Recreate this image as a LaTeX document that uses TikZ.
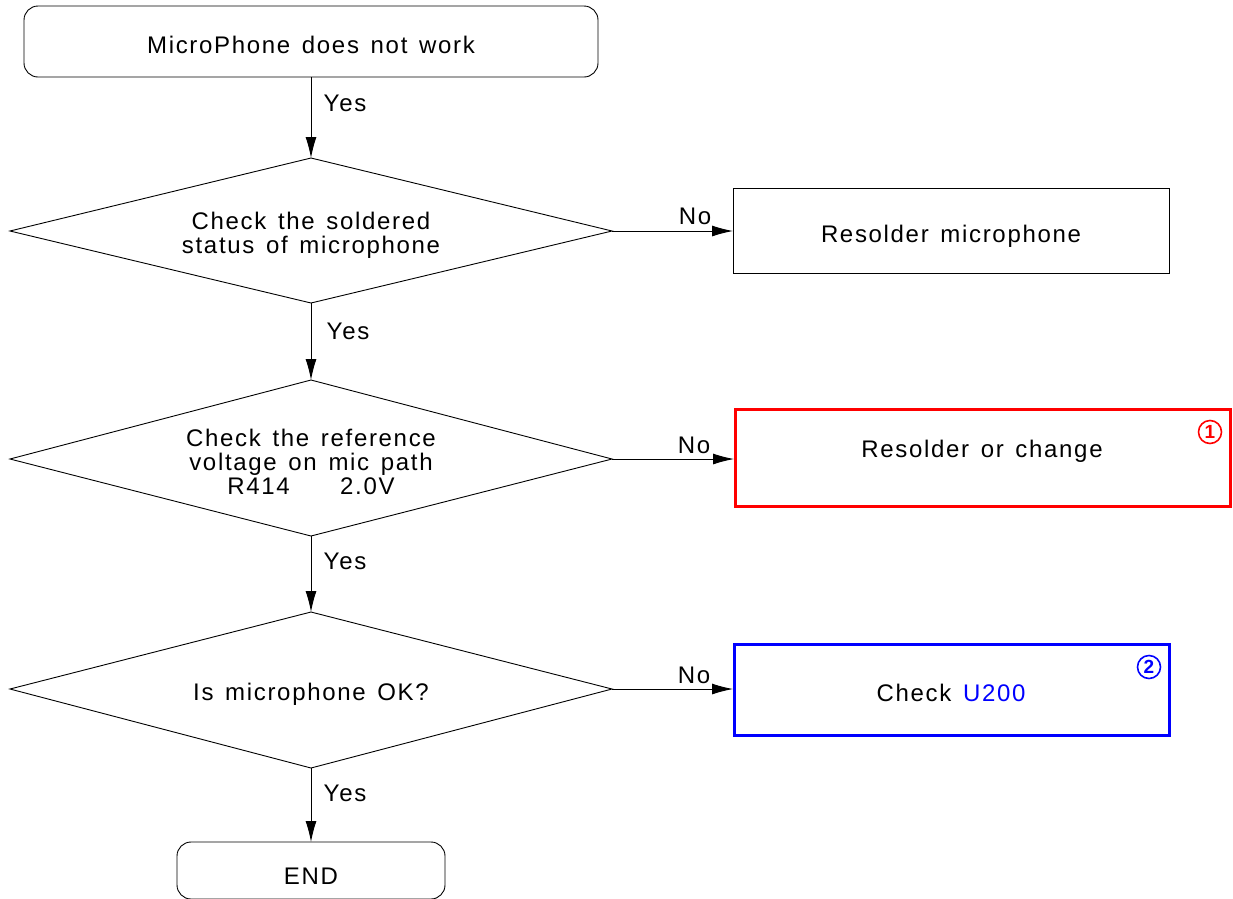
\documentclass[tikz,border=0pt]{standalone}
\usepackage{fontspec}
\setmainfont{Liberation Sans}[WordSpace=1.4, LetterSpace=7]
\usetikzlibrary{shapes.geometric,arrows.meta}
\begin{document}
\begin{tikzpicture}[x=1pt,y=-1pt,
  every node/.style={font=\fontsize{24}{24}\selectfont, inner sep=0pt},
  term/.style={draw, rounded corners=14pt, line width=0.9pt},
  decision/.style={draw, line width=0.9pt},
  plainbox/.style={draw, line width=0.9pt},
  redbox/.style={draw=red, line width=3pt},
  bluebox/.style={draw=blue, line width=3pt},
  conn/.style={line width=0.9pt, -{Latex[length=21pt,width=11pt]}},
  lbl/.style={font=\fontsize{24}{24}\selectfont},
  badge/.style={circle, draw, line width=1.6pt, minimum size=23pt, font=\fontsize{19}{19}\selectfont\bfseries}
]
\useasboundingbox (0,0) rectangle (1233,898);
% start
\draw[term] (24,6) rectangle (598,77);
\node (start) at (311,41.5) {};
\node at (311,45) {MicroPhone does not work};
\coordinate (startb) at (311,77);
% diamond 1
\draw[decision] (311,158) -- (612,231) -- (311,303) -- (10,231) -- cycle;
\coordinate (d1t) at (311,158);
\coordinate (d1r) at (612,231);
\coordinate (d1b) at (311,303);
\node[align=center] (d1) at (311,235) {Check the soldered\\status of microphone};
% box 1
\draw[plainbox] (733,188) rectangle (1169,273);
\coordinate (b1l) at (733,231);
\node (b1) at (951,236) {Resolder microphone};
% diamond 2
\draw[decision] (311,380) -- (612,459) -- (311,536) -- (10,459) -- cycle;
\coordinate (d2t) at (311,380);
\coordinate (d2r) at (612,459);
\coordinate (d2b) at (311,536);
\node[align=center] (d2) at (311,462) {Check the reference\\voltage on mic path\\R414\hspace{2.1em}2.0V};
% box 2
\draw[redbox] (735,409) rectangle (1230,506);
\coordinate (b2l) at (734,459);
\node (b2) at (982,451) {Resolder or change};
\node[badge, draw=red, text=red] (n1) at (1210,432) {1};
% diamond 3
\draw[decision] (311,612) -- (612,689) -- (311,768) -- (10,689) -- cycle;
\coordinate (d3t) at (311,612);
\coordinate (d3r) at (612,689);
\coordinate (d3b) at (311,768);
\node (d3) at (311,694) {Is microphone OK?};
% box 3
\draw[bluebox] (734,644) rectangle (1169,735);
\coordinate (b3l) at (733,689);
\node (b3) at (951,693) {Check \textcolor{blue}{U200}};
\node[badge, draw=blue, text=blue] (n2) at (1149,667) {2};
% end
\draw[term] (177,842) rectangle (445,899);
\coordinate (endt) at (311,842);
\node (endn) at (311,876) {END};
% connectors
\draw[conn] (startb) -- (d1t);
\node[lbl] at (345,103) {Yes};
\draw[conn] (d1r) -- (b1l);
\node[lbl] at (695,216) {No};
\draw[conn] (d1b) -- (d2t);
\node[lbl] at (348,331) {Yes};
\draw[conn] (d2r) -- (b2l);
\node[lbl] at (694,445) {No};
\draw[conn] (d2b) -- (d3t);
\node[lbl] at (345,561) {Yes};
\draw[conn] (d3r) -- (b3l);
\node[lbl] at (694,675) {No};
\draw[conn] (d3b) -- (endt);
\node[lbl] at (345,793) {Yes};
\end{tikzpicture}
\end{document}
